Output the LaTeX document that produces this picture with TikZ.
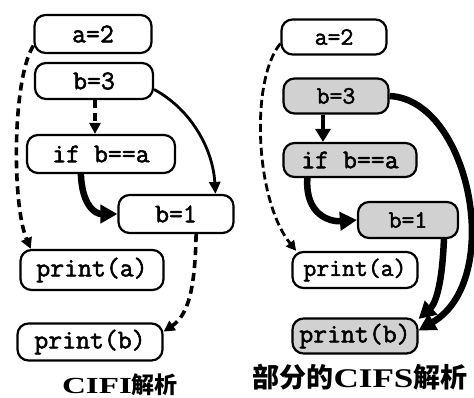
\documentclass[tikz,border=0pt]{standalone}
\usepackage{fontspec}
\usepackage{graphicx}
\setmonofont{Latin Modern Mono}[FakeBold=2]
\newfontfamily\cjk{Noto Sans CJK SC}
\newfontfamily\latb{Liberation Serif}
\usetikzlibrary{arrows.meta}
\begin{document}
\begin{tikzpicture}[x=1pt,y=-1pt,
  box/.style={draw, line width=2.2pt, rounded corners=11pt, inner sep=0pt, font=\ttfamily\fontsize{27}{27}\selectfont},
  rbox/.style={box, font=\ttfamily\fontsize{25}{25}\selectfont},
  shbox/.style={rbox, fill=black!18},
  dsh/.style={line width=3.6pt, dash pattern=on 8pt off 5pt, -{Triangle[length=11pt,width=11pt]}},
  tdsh/.style={line width=2.8pt, dash pattern=on 8pt off 4pt, -{Triangle[length=10pt,width=10pt]}},
  sol/.style={line width=2.8pt, -{Triangle[length=12pt,width=11pt]}},
  mid/.style={line width=4.5pt, -{Triangle[length=13pt,width=15pt]}},
  fat/.style={line width=6.5pt, -{Triangle[length=17pt,width=18pt]}},
  captext/.style={inner sep=0pt}
]
\useasboundingbox (0,0) rectangle (474,398);

% left
\node[box, minimum width=117pt, minimum height=38pt] (la) at (93,34) {a=2};
\node[box, minimum width=118pt, minimum height=36pt] (lb) at (94,81) {b=3};
\node[box, minimum width=148pt, minimum height=38pt] (lif) at (101,154) {if b==a\hspace{20pt}};
\node[box, minimum width=115pt, minimum height=38pt] (lb1) at (176,214) {b=1};
\node[box, minimum width=143pt, minimum height=40pt] (lpa) at (92,270) {print(a)};
\node[box, minimum width=145pt, minimum height=37pt] (lpb) at (90,342) {print(b)\hspace{8pt}};

\draw[dsh] (la.191) .. controls (12,80) and (12,205) .. (lpa.161);
\draw[dsh] ([xshift=1pt]lb.south) -- ([xshift=1pt]lb.south |- lif.north);
\draw[sol] (lb.-8) .. controls (192,110) and (213,150) .. (lb1.27);
\draw[fat] (lif.-135) .. controls (82,205) and (95,214) .. (lb1.west);
\draw[dsh] (lb1.-45) .. controls (195,290) and (188,315) .. (lpb.8);

\node[captext, font=\fontsize{23}{23}\selectfont] (lcap) at (120,385) {\latb\bfseries\scalebox{1.44}[1]{CIFI}\cjk\bfseries 解析};

% right
\node[rbox, minimum width=105pt, minimum height=35pt] (ra) at (334,37) {a=2};
\node[shbox, minimum width=105pt, minimum height=35pt] (rb) at (336,96) {b=3};
\node[shbox, minimum width=133pt, minimum height=34pt, font=\ttfamily\fontsize{27}{27}\selectfont] (rif) at (350,160) {if b==a};
\node[shbox, minimum width=100pt, minimum height=36pt] (rb1) at (408,220) {b=1};
\node[rbox, minimum width=125pt, minimum height=36pt] (rpa) at (355,270) {print(a)};
\node[shbox, minimum width=125pt, minimum height=35pt, font=\ttfamily\fontsize{27}{27}\selectfont] (rpb) at (355,336) {print(b)};

\draw[tdsh] (ra.187) .. controls (250,80) and (255,200) .. (rpa.162);
\draw[mid] ([xshift=-13pt]rb.south) -- ([xshift=-13pt]rb.south |- rif.north);
\draw[fat] (rb.east) .. controls (470,100) and (505,280) .. (rpb.5);
\draw[fat] (rif.203) .. controls (305,215) and (330,222) .. (rb1.west);
\draw[fat] (rb1.-28) .. controls (442,290) and (434,305) .. (rpb.15);

\node[captext, font=\fontsize{27}{27}\selectfont] (rcap) at (360,377) {\cjk\bfseries 部分的\latb\bfseries\scalebox{1.3}[1]{CIFS}\cjk\bfseries 解析};
\end{tikzpicture}
\end{document}
